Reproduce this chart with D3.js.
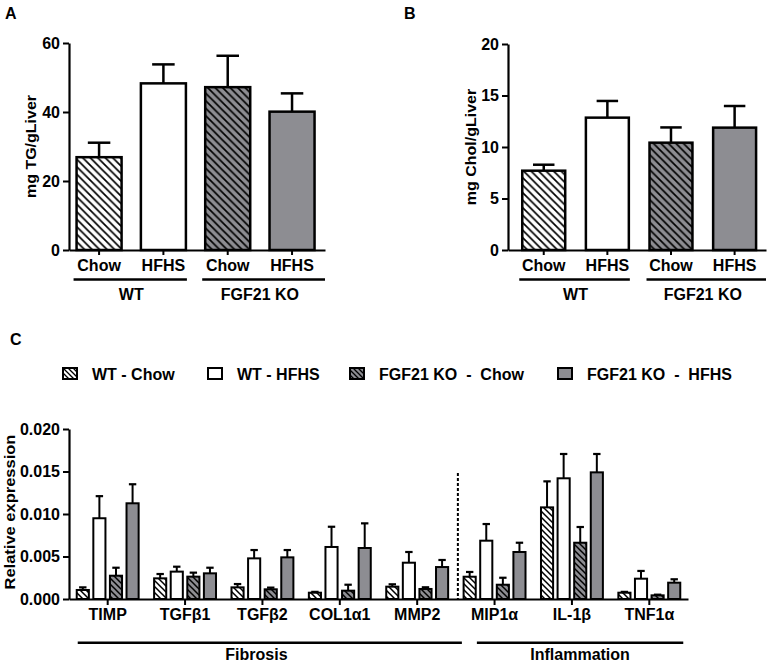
<!DOCTYPE html>
<html><head><meta charset="utf-8">
<script src="https://cdn.jsdelivr.net/npm/d3@7"></script>
<style>
body{margin:0;background:#fff}
svg text{font-family:"Liberation Sans",Arial,sans-serif;font-weight:bold;fill:#000}
</style>
</head><body>
<svg id="c" width="767" height="661"></svg>
<script>
// ---------------- DATA ----------------
const groupKeys = ["WT Chow", "WT HFHS", "KO Chow", "KO HFHS"];
const dietLabels = ["Chow", "HFHS", "Chow", "HFHS"];
const genotypeLabels = ["WT", "FGF21 KO"];
const seriesNames = ["WT - Chow", "WT - HFHS", "FGF21 KO  -  Chow", "FGF21 KO  -  HFHS"];

const tgMean = [26.9, 48.3, 47.2, 40.1];
const tgSem = [4.2, 5.5, 9.1, 5.3];
const tgTicks = [0, 20, 40, 60];

const cholMean = [7.7, 12.85, 10.42, 11.88];
const cholSem = [0.58, 1.62, 1.48, 2.1];
const cholTicks = [0, 5, 10, 15, 20];

const genes = ["TIMP", "TGFβ1", "TGFβ2", "COL1α1", "MMP2", "MIP1α", "IL-1β", "TNF1α"];
const wtChow     = [0.00106, 0.00243, 0.00137, 0.00074, 0.00145, 0.00262, 0.01078, 0.00074];
const wtChowSem  = [0.00031, 0.00051, 0.00039, 0.00010, 0.00028, 0.00056, 0.00306, 0.00010];
const wtHfhs     = [0.00950, 0.00322, 0.00478, 0.00612, 0.00427, 0.00686, 0.01420, 0.00239];
const wtHfhsSem  = [0.00260, 0.00058, 0.00098, 0.00238, 0.00126, 0.00196, 0.00286, 0.00091];
const koChow     = [0.00274, 0.00263, 0.00114, 0.00098, 0.00118, 0.00168, 0.00662, 0.00043];
const koChowSem  = [0.00094, 0.00047, 0.00020, 0.00070, 0.00020, 0.00082, 0.00185, 0.00008];
const koHfhs     = [0.01126, 0.00302, 0.00490, 0.00600, 0.00376, 0.00553, 0.01490, 0.00192];
const koHfhsSem  = [0.00224, 0.00066, 0.00086, 0.00290, 0.00083, 0.00109, 0.00216, 0.00040];
const exprTicks = [0, 0.005, 0.010, 0.015, 0.020];
const geneGroups = [{label: "Fibrosis", from: 0, to: 4}, {label: "Inflammation", from: 5, to: 7}];

// ---------------- SETUP ----------------
const GREY = "#8d8d92";
const svg = d3.select("#c");
const defs = svg.append("defs");
function hatch(id, bg, p, sw) {
  const pat = defs.append("pattern").attr("id", id).attr("patternUnits", "userSpaceOnUse")
    .attr("width", p).attr("height", p);
  pat.append("rect").attr("width", p).attr("height", p).attr("fill", bg);
  pat.append("path")
    .attr("d", `M0,0L${p},${p}M${-p/2},${p/2}L${p/2},${p*1.5}M${p/2},${-p/2}L${p*1.5},${p/2}`)
    .attr("stroke", "#000").attr("stroke-width", sw);
}
hatch("hwL", "#fff", 7.5, 1.7); hatch("hgL", GREY, 7.5, 1.7);
hatch("hwS", "#fff", 6, 1.5); hatch("hgS", GREY, 6, 1.5);
hatch("hwX", "#fff", 5, 1.3); hatch("hgX", GREY, 5, 1.3);
const fillFor = (i, s) => [`url(#hw${s})`, "#fff", `url(#hg${s})`, GREY][i];

function styleAxis(g, fs) {
  g.attr("font-size", null).attr("font-family", null);
  g.select(".domain").attr("stroke", "#000").attr("stroke-width", 2.2);
  g.selectAll(".tick line").attr("stroke", "#000").attr("stroke-width", 2);
  g.selectAll(".tick text").style("font-size", fs + "px");
}

// ---------------- PANELS A & B ----------------
function drawSmall(o) {
  const x = d3.scaleBand().domain(groupKeys).range([o.x0, o.x1])
    .paddingInner(o.pi).paddingOuter(o.po).align(o.al);
  const y = d3.scaleLinear().domain([0, o.max]).range([o.yBase, o.yTop]);
  const g = svg.append("g");

  // error bars
  const bw = x.bandwidth();
  groupKeys.forEach((k, i) => {
    const cx = x(k) + bw / 2;
    const top = y(o.mean[i] + o.sem[i]);
    g.append("line").attr("x1", cx).attr("x2", cx).attr("y1", y(o.mean[i])).attr("y2", top)
      .attr("stroke", "#000").attr("stroke-width", 2.5);
    g.append("line").attr("x1", cx - bw / 4).attr("x2", cx + bw / 4).attr("y1", top).attr("y2", top)
      .attr("stroke", "#000").attr("stroke-width", 2.5);
  });
  // bars
  g.selectAll("rect.bar").data(groupKeys).join("rect").attr("class", "bar")
    .attr("x", d => x(d)).attr("width", bw)
    .attr("y", (d, i) => y(o.mean[i])).attr("height", (d, i) => y(0) - y(o.mean[i]))
    .attr("fill", (d, i) => fillFor(i, "L")).attr("stroke", "#000").attr("stroke-width", 2.5);

  const ya = g.append("g").attr("transform", `translate(${o.x0},0)`)
    .call(d3.axisLeft(y).tickValues(o.ticks).tickFormat(d3.format("d")).tickSize(6).tickSizeOuter(0).tickPadding(3));
  styleAxis(ya, 16);
  const xa = g.append("g").attr("transform", `translate(0,${o.yBase})`)
    .call(d3.axisBottom(x).tickSize(5).tickSizeOuter(0).tickPadding(5).tickFormat((d, i) => dietLabels[i]));
  styleAxis(xa, 16);

  // genotype group lines
  const lineY = o.yBase + 29.5;
  [[0, 1], [2, 3]].forEach((pair, gi) => {
    const a = x(groupKeys[pair[0]]) - 3;
    const b = gi === 1 ? o.x1 : x(groupKeys[pair[1]]) + bw + 1;
    g.append("line").attr("x1", a).attr("x2", b).attr("y1", lineY).attr("y2", lineY)
      .attr("stroke", "#000").attr("stroke-width", 2.5);
    g.append("text").attr("x", (x(groupKeys[pair[0]]) + x(groupKeys[pair[1]]) + bw) / 2)
      .attr("y", lineY + 20).attr("text-anchor", "middle").style("font-size", "16px")
      .text(genotypeLabels[gi]);
  });

  // y label
  g.append("text").attr("transform", `translate(${o.ylabX},${(o.yBase + o.yTop) / 2}) rotate(-90) scale(1,0.9)`)
    .attr("text-anchor", "middle").style("font-size", "16px").text(o.ylab);
  // panel letter
  g.append("text").attr("x", o.letterX).attr("y", 19).style("font-size", "16px").text(o.letter);
}

drawSmall({x0: 69, x1: 325, yBase: 250, yTop: 43, max: 60, ticks: tgTicks, mean: tgMean, sem: tgSem,
  pi: 0.3, po: 0.14, al: 0.42, ylab: "mg TG/gLiver", ylabX: 36, letter: "A", letterX: 5});
drawSmall({x0: 508, x1: 766, yBase: 250, yTop: 44, max: 20, ticks: cholTicks, mean: cholMean, sem: cholSem,
  pi: 0.325, po: 0.19, al: 0.59, ylab: "mg Chol/gLiver", ylabX: 476, letter: "B", letterX: 404});

// ---------------- PANEL C ----------------
(function () {
  const seriesVals = [wtChow, wtHfhs, koChow, koHfhs];
  const seriesSems = [wtChowSem, wtHfhsSem, koChowSem, koHfhsSem];
  const x0 = 69, x1 = 688, yBase = 599, yTop = 429;
  const x = d3.scaleBand().domain(genes).range([x0, x1]).paddingInner(0.2).paddingOuter(0.1);
  const xs = d3.scaleBand().domain(d3.range(4)).range([0, x.bandwidth()]).paddingInner(0.27);
  const y = d3.scaleLinear().domain([0, 0.02]).range([yBase, yTop]);
  const g = svg.append("g");
  const bw = xs.bandwidth();

  // dashed separator
  const dashX = (x(genes[4]) + x.bandwidth() + x(genes[5])) / 2 + 2;
  g.append("line").attr("x1", dashX).attr("x2", dashX).attr("y1", 473).attr("y2", yBase)
    .attr("stroke", "#000").attr("stroke-width", 2).attr("stroke-dasharray", "3,2");

  genes.forEach((gene, gi) => {
    seriesVals.forEach((vals, si) => {
      const bx = x(gene) + xs(si);
      const cx = bx + bw / 2;
      const top = y(vals[gi] + seriesSems[si][gi]);
      g.append("line").attr("x1", cx).attr("x2", cx).attr("y1", y(vals[gi])).attr("y2", top)
        .attr("stroke", "#000").attr("stroke-width", 2);
      g.append("line").attr("x1", cx - 3.7).attr("x2", cx + 3.7).attr("y1", top).attr("y2", top)
        .attr("stroke", "#000").attr("stroke-width", 2.2);
      g.append("rect").attr("x", bx).attr("width", bw)
        .attr("y", y(vals[gi])).attr("height", y(0) - y(vals[gi]))
        .attr("fill", fillFor(si, "S")).attr("stroke", "#000").attr("stroke-width", 2);
    });
  });

  const ya = g.append("g").attr("transform", `translate(${x0},0)`)
    .call(d3.axisLeft(y).tickValues(exprTicks).tickFormat(d3.format(".3f")).tickSize(6).tickSizeOuter(0).tickPadding(3));
  styleAxis(ya, 16);
  const xa = g.append("g").attr("transform", `translate(0,${yBase})`)
    .call(d3.axisBottom(x).tickSize(6).tickSizeOuter(0).tickPadding(4));
  styleAxis(xa, 16);

  // group lines
  const lineY = 642.7;
  geneGroups.forEach((gr, i) => {
    const a = i === 0 ? x(genes[gr.from]) + 1 : dashX + 19;
    const b = i === 0 ? dashX + 4 : x(genes[gr.to]) + x.bandwidth() + 3;
    g.append("line").attr("x1", a).attr("x2", b).attr("y1", lineY).attr("y2", lineY)
      .attr("stroke", "#000").attr("stroke-width", 2.5);
    const cx = i === 0 ? (x(genes[gr.from]) + x(genes[gr.to]) + x.bandwidth()) / 2 - 6 : (a + b) / 2;
    g.append("text").attr("x", cx).attr("y", 659.5).attr("text-anchor", "middle")
      .style("font-size", "16px").text(gr.label);
  });

  // y label
  g.append("text").attr("transform", `translate(15,${(yBase + 425) / 2}) rotate(-90) scale(1,0.9)`)
    .attr("text-anchor", "middle").style("font-size", "16.5px").text("Relative expression");

  // panel letter
  g.append("text").attr("x", 10).attr("y", 345).style("font-size", "16px").text("C");

  // legend
  const legX = [63, 208, 350, 558];
  const lg = g.append("g");
  seriesNames.forEach((name, i) => {
    lg.append("rect").attr("x", legX[i]).attr("y", 368).attr("width", 14).attr("height", 11)
      .attr("fill", fillFor(i, "X")).attr("stroke", "#000").attr("stroke-width", 2);
    lg.append("text").attr("x", legX[i] + 29).attr("y", 379.5).style("font-size", "16px")
      .style("white-space", "pre").text(name);
  });
})();
</script>
</body></html>
